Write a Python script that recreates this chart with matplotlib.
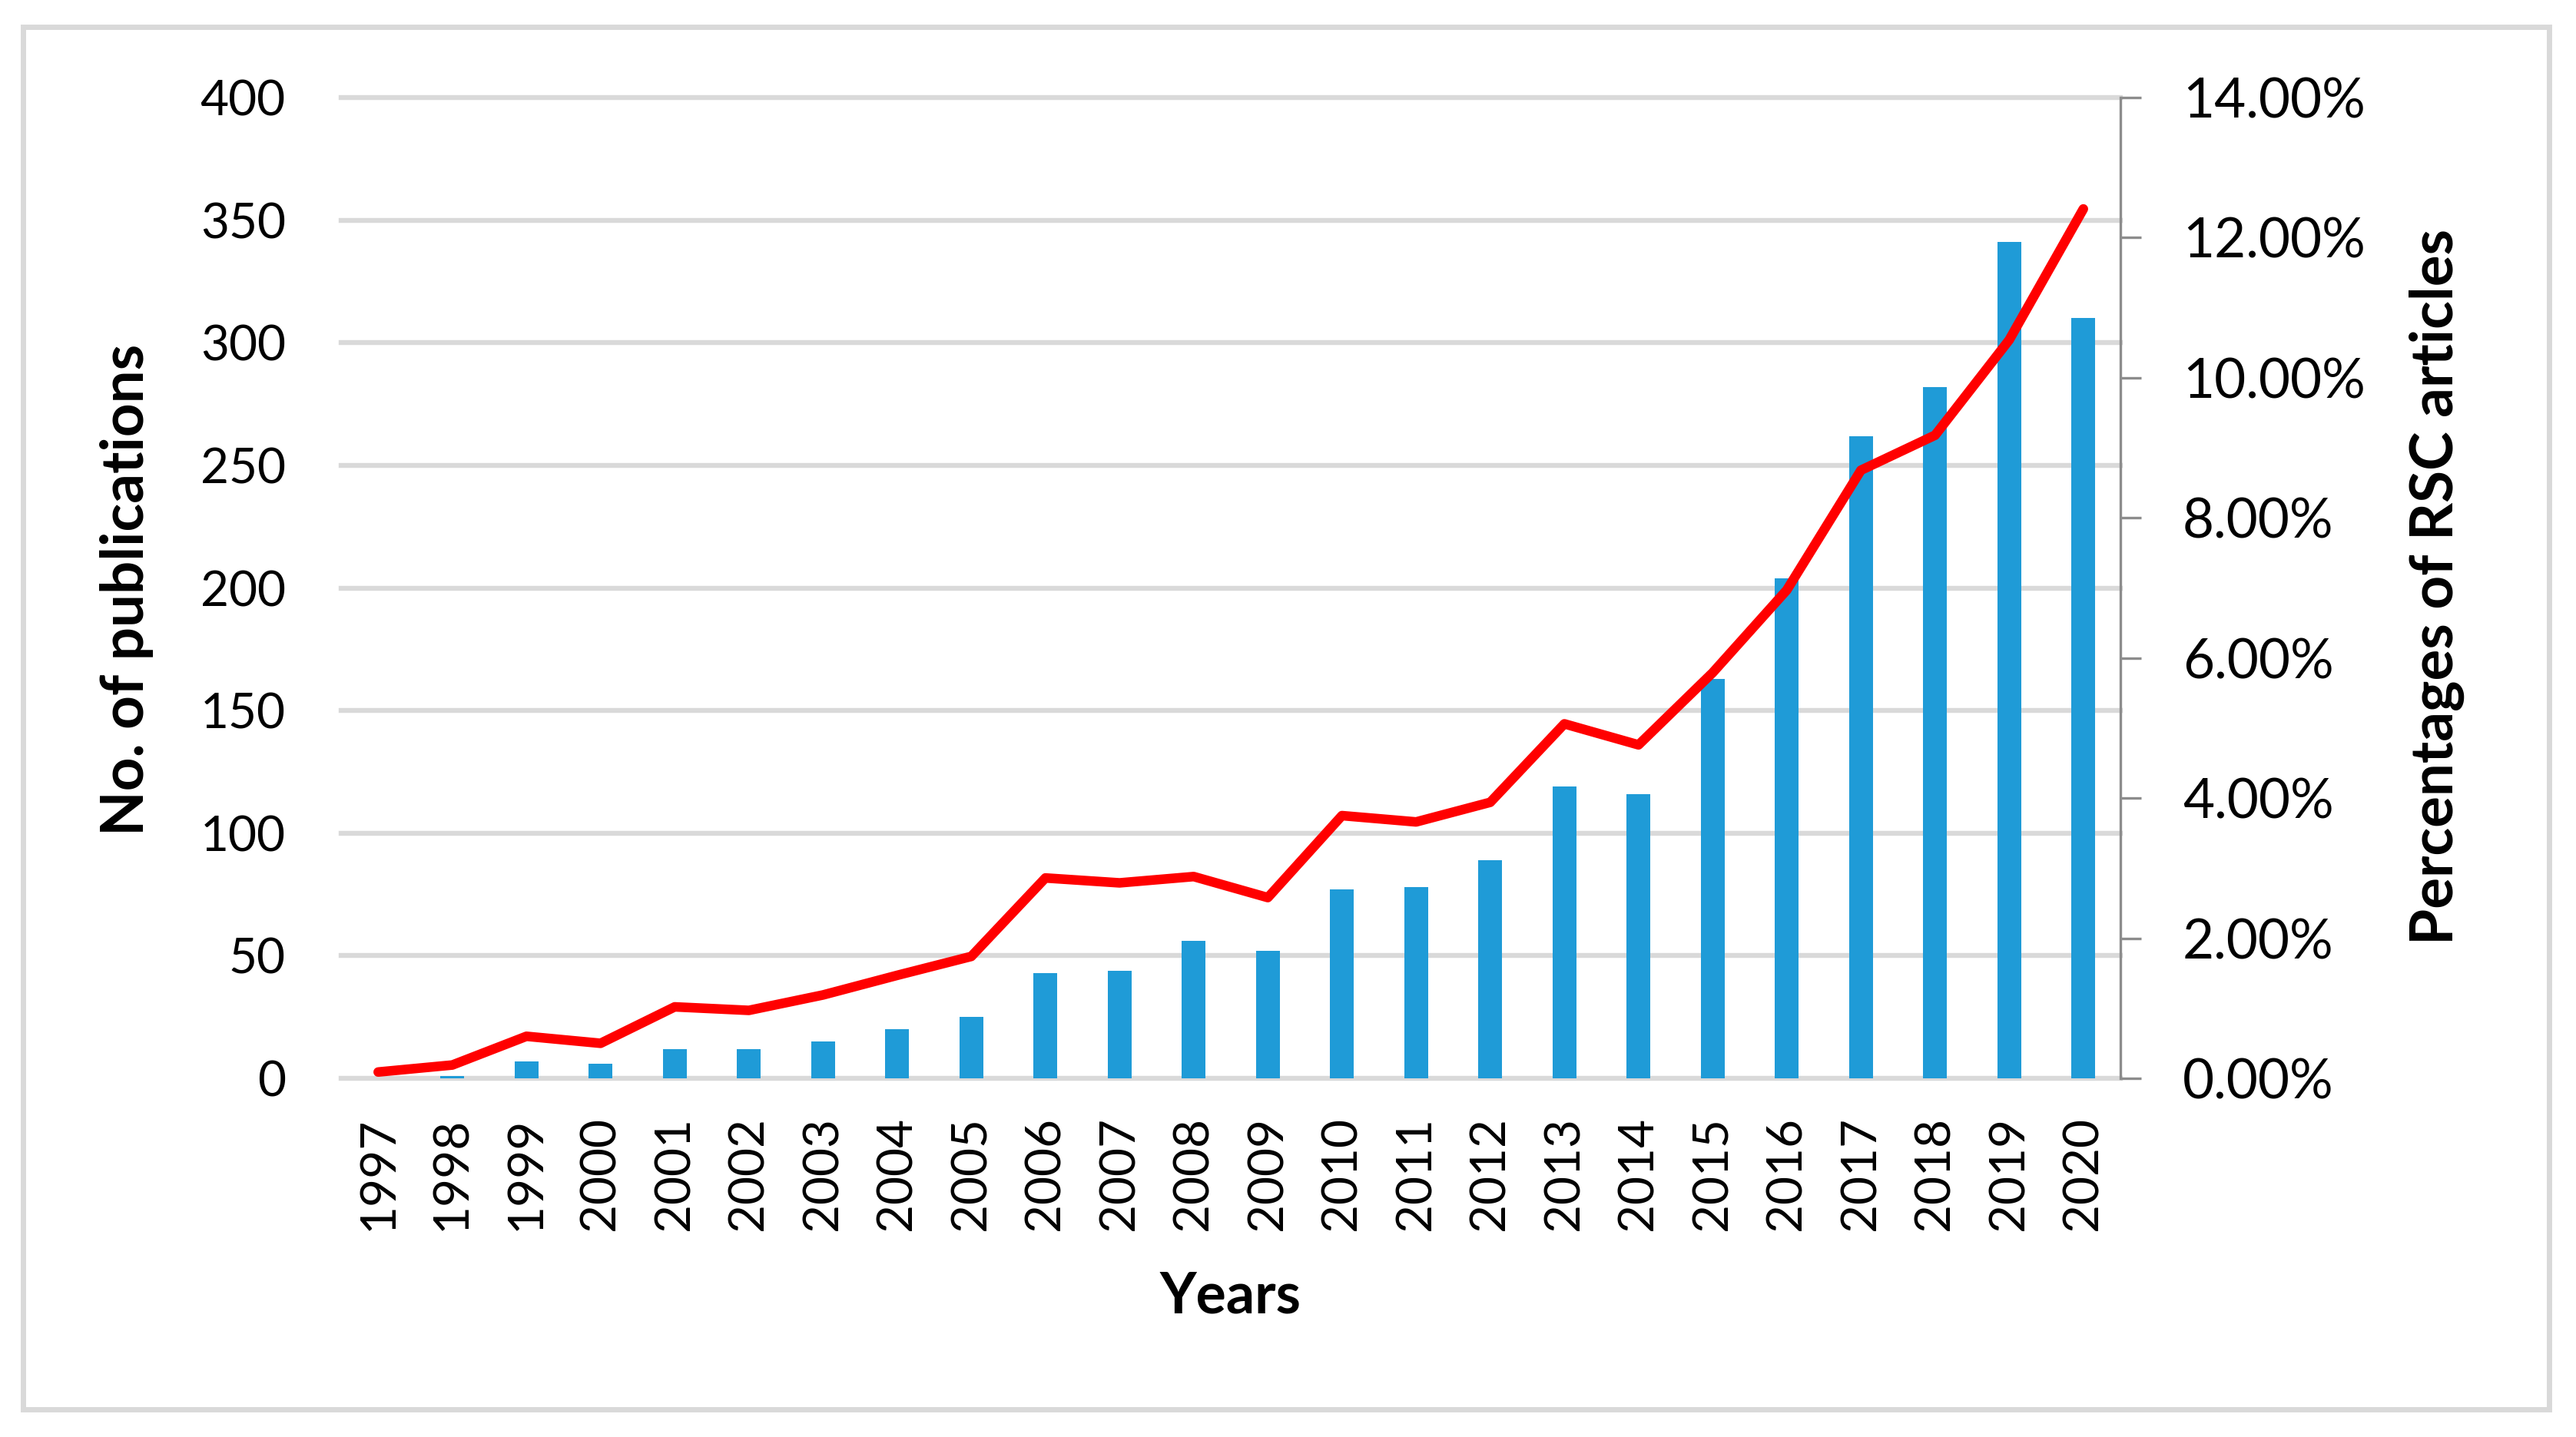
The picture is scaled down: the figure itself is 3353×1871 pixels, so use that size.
import numpy as np
import matplotlib
matplotlib.use("Agg")
import matplotlib.pyplot as plt
from matplotlib.patches import Rectangle
from matplotlib.ticker import FuncFormatter

years = ["1997", "1998", "1999", "2000", "2001", "2002", "2003", "2004",
         "2005", "2006", "2007", "2008", "2009", "2010", "2011", "2012",
         "2013", "2014", "2015", "2016", "2017", "2018", "2019", "2020"]
publications = [0, 1, 7, 6, 12, 12, 15, 20, 25, 43, 44, 56, 52, 77,
                78, 89, 119, 116, 163, 204, 262, 282, 341, 310]
percent_rsc = [0.09, 0.19, 0.60, 0.50, 1.02, 0.97, 1.19, 1.47, 1.74, 2.86,
               2.79, 2.88, 2.58, 3.75, 3.66, 3.94, 5.06, 4.76, 5.79, 6.97,
               8.68, 9.18, 10.54, 12.41]

plt.rcParams["font.family"] = ["Lato", "DejaVu Sans"]

W, H = 3353, 1871
fig = plt.figure(figsize=(W / 100, H / 100), dpi=100)

# outer frame
fig.patches.append(Rectangle((30 / W, 1 - 1835 / H), (3318 - 30) / W, (1835 - 35) / H,
                             transform=fig.transFigure, fill=False,
                             edgecolor="#d9d9d9", linewidth=5))

ax = fig.add_axes([444 / W, 1 - 1404 / H, (2760 - 444) / W, (1404 - 127) / H])
x = np.arange(len(years))

ax.bar(x, publications, width=0.32, color="#1f9bd7", zorder=2)
ax.set_xlim(-0.5, len(years) - 0.5)
ax.set_ylim(0, 400)
ax.set_yticks(np.arange(0, 401, 50))
ax.yaxis.grid(True, color="#d9d9d9", linewidth=4.6)
ax.set_axisbelow(True)
for gl in ax.get_ygridlines():
    gl.set_clip_on(False)
for s in ax.spines.values():
    s.set_visible(False)
ax.set_xticks(x)
ax.set_xticklabels(years, rotation=90, fontsize=46)
ax.tick_params(axis="x", length=0, pad=36)
ax.tick_params(axis="y", length=0, pad=52, labelsize=46)

ax2 = ax.twinx()
ax2.plot(x, percent_rsc, color="#ff0000", linewidth=9,
         solid_capstyle="round", solid_joinstyle="round", zorder=3)
ax2.set_ylim(0, 14)
ax2.set_yticks(np.arange(0, 14.1, 2))
ax2.yaxis.set_major_formatter(FuncFormatter(lambda v, p: "{:.2f}%".format(v)))
for k in ["top", "left", "bottom"]:
    ax2.spines[k].set_visible(False)
ax2.spines["right"].set_color("#8c8c8c")
ax2.spines["right"].set_linewidth(2.4)
ax2.tick_params(axis="y", length=19.4, width=2.4, color="#8c8c8c",
                direction="out", pad=39, labelsize=51)

fig.text(165 / W, 1 - 768 / H, "No. of publications", rotation=90,
         ha="center", va="center", fontsize=55, fontweight="bold")
fig.text(3172 / W, 1 - 764 / H, "Percentages of RSC articles", rotation=90,
         ha="center", va="center", fontsize=55, fontweight="bold")
fig.text(1602 / W, 1 - 1709 / H, "Years", ha="center", va="baseline",
         fontsize=53, fontweight="bold")

fig.savefig("out.png", dpi=100, facecolor="white")
